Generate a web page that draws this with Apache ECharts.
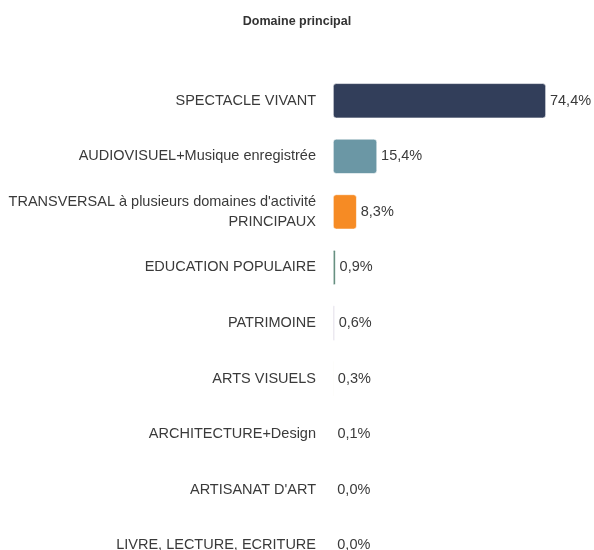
<!DOCTYPE html>
<html><head><meta charset="utf-8">
<script src="https://cdn.jsdelivr.net/npm/echarts@6/dist/echarts.min.js"></script>
<style>html,body{margin:0;padding:0;background:#fff}#c{width:594px;height:550px}</style>
</head><body><div id="c"></div>
<script>
const categories = [
  "SPECTACLE VIVANT",
  "AUDIOVISUEL+Musique enregistrée",
  "TRANSVERSAL à plusieurs domaines d'activité\nPRINCIPAUX",
  "EDUCATION POPULAIRE",
  "PATRIMOINE",
  "ARTS VISUELS",
  "ARCHITECTURE+Design",
  "ARTISANAT D'ART",
  "LIVRE, LECTURE, ECRITURE"
];
const values = [74.4, 15.4, 8.3, 0.9, 0.6, 0.3, 0.1, 0.0, 0.0];
const colors = ["#323e5a", "#6b97a5", "#f68b24", "#4f7f6e", "#c9c3d8", "#e6dcc0", "#c6d2e4", "#e3c8cc", "#d3dfc6"];

const FONT = '"Liberation Sans", Arial, sans-serif';
const chart = echarts.init(document.getElementById('c'), null, {renderer: 'canvas'});
chart.setOption({
  animation: false,
  title: {
    text: 'Domaine principal', left: 'center', top: 10,
    textStyle: {fontFamily: FONT, fontSize: 12.5, fontWeight: 'bold', color: '#333'}
  },
  grid: {left: 333, right: 32, top: 73, height: 500, containLabel: false, outerBoundsMode: 'none'},
  xAxis: {type: 'value', min: 0, max: 80, show: false},
  yAxis: {
    type: 'category', inverse: true, data: categories,
    axisLine: {show: false}, axisTick: {show: false},
    axisLabel: {margin: 17, fontFamily: FONT, fontSize: 14.5, color: '#3a3a3a', align: 'right', lineHeight: 20}
  },
  series: [{
    type: 'bar', barWidth: 35,
    data: values.map((v, i) => ({value: v, itemStyle: {color: colors[i]}})),
    itemStyle: {borderRadius: 3, borderColor: '#fff', borderWidth: 0.6},
    label: {
      show: true, position: 'right', distance: 4,
      fontFamily: FONT, fontSize: 14.5, color: '#3a3a3a',
      formatter: p => p.value.toFixed(1).replace('.', ',') + '%'
    }
  }]
});
</script></body></html>
